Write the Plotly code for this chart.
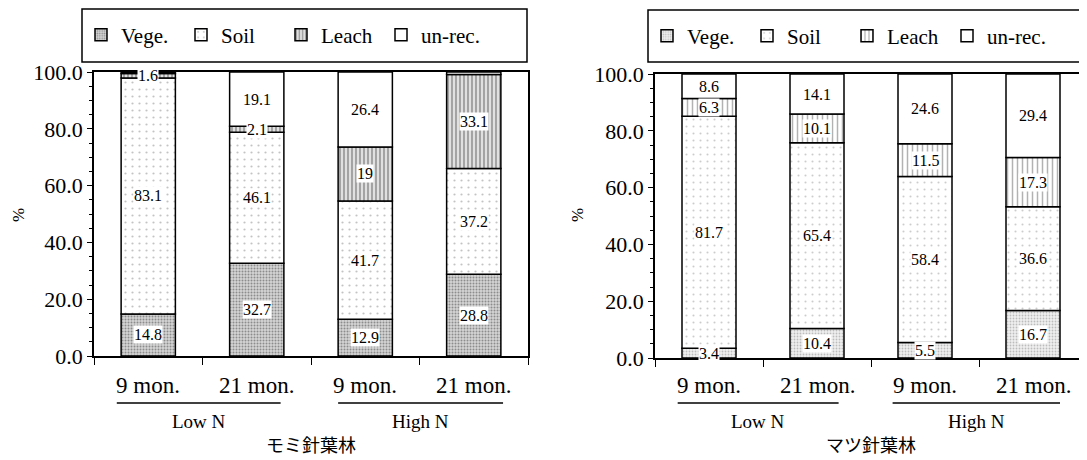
import plotly.graph_objects as go

# ---------------- data ----------------
categories = ["9 mon.", "21 mon.", "9 mon.", "21 mon."]
groups = ["Low N", "High N"]
series = ["Vege.", "Soil", "Leach", "un-rec."]

# モミ針葉林 (left)
momi_vege = [14.8, 32.7, 12.9, 28.8]
momi_soil = [83.1, 46.1, 41.7, 37.2]
momi_leach = [1.6, 2.1, 19.0, 33.1]
momi_unrec = [0.5, 19.1, 26.4, 0.9]

# マツ針葉林 (right)
matsu_vege = [3.4, 10.4, 5.5, 16.7]
matsu_soil = [81.7, 65.4, 58.4, 36.6]
matsu_leach = [6.3, 10.1, 11.5, 17.3]
matsu_unrec = [8.6, 14.1, 24.6, 29.4]

titles = ["モミ針葉林", "マツ針葉林"]
y_ticks = [0, 20, 40, 60, 80, 100]

SERIF = "Liberation Serif"
CJK = "Noto Sans CJK JP"

# page has an 8px body margin -> figure occupies 8..1087 x 8..460
OFF = 8
W, H = 1087 - OFF, 460 - OFF


def px_x(p):
    return (p - OFF) / W


def px_y(p):
    return 1 - (p - OFF) / H


patterns = {
    "Vege.": [dict(shape=".", fgcolor="#444", bgcolor="#d4d4d4", size=3, solidity=0.35),
              dict(shape=".", fgcolor="#888", bgcolor="#f0f0f0", size=3, solidity=0.3)],
    "Soil": [dict(shape=".", fgcolor="#888", bgcolor="white", size=7, solidity=0.08),
             dict(shape=".", fgcolor="#999", bgcolor="white", size=7, solidity=0.07)],
    "Leach": [dict(shape="|", fgcolor="#333", bgcolor="#e0e0e0", size=4, solidity=0.35),
              dict(shape="|", fgcolor="#666", bgcolor="white", size=5, solidity=0.3)],
    "un-rec.": [dict(shape="", bgcolor="white"), dict(shape="", bgcolor="white")],
}

panels = [
    dict(data=[momi_vege, momi_soil, momi_leach, momi_unrec], xa="x", ya="y",
         legend="legend", dom_x=[px_x(94), px_x(528)], dom_y=[px_y(356), px_y(72)],
         under=[(-0.29, 1.22), (1.75, 3.27)], ytitle_x=18),
    dict(data=[matsu_vege, matsu_soil, matsu_leach, matsu_unrec], xa="x2", ya="y2",
         legend="legend2", dom_x=[px_x(655), 1.0], dom_y=[px_y(358), px_y(74)],
         under=[(-0.29, 1.2), (1.7, 3.25)], ytitle_x=577),
]

fig = go.Figure()
annotations = []
shapes = []
xpos = list(range(len(categories)))

for pi, p in enumerate(panels):
    base = [0.0] * len(categories)
    for si, name in enumerate(series):
        vals = p["data"][si]
        fig.add_trace(go.Bar(
            x=xpos, y=vals, base=base[:], name=name,
            xaxis=p["xa"], yaxis=p["ya"], legend=p["legend"],
            width=0.5,
            marker=dict(color="white", line=dict(color="black", width=1.5),
                        pattern=patterns[name][pi]),
            hoverinfo="skip",
        ))
        for ci, v in enumerate(vals):
            if v >= 1:
                annotations.append(dict(
                    x=xpos[ci], y=base[ci] + v / 2, xref=p["xa"], yref=p["ya"],
                    xanchor="center", yanchor="middle",
                    text=f"{v:g}", showarrow=False, bgcolor="white", borderpad=0,
                    font=dict(family=SERIF, size=16, color="black")))
            base[ci] += v

    # category labels
    for ci, c in enumerate(categories):
        annotations.append(dict(x=xpos[ci], y=px_y(385), xref=p["xa"], yref="paper",
                                xanchor="center", yanchor="middle",
                                text=c, showarrow=False,
                                font=dict(family=SERIF, size=23, color="black")))
    # group underlines + labels
    for gi, g in enumerate(groups):
        x0, x1 = p["under"][gi]
        shapes.append(dict(type="line", xref=p["xa"], yref="paper", x0=x0, x1=x1,
                           y0=px_y(403), y1=px_y(403), line=dict(color="black", width=1.5)))
        annotations.append(dict(x=(x0 + x1) / 2, y=px_y(421),
                                xref=p["xa"], yref="paper", text=g, showarrow=False,
                                xanchor="center", yanchor="middle",
                                font=dict(family=SERIF, size=19, color="black")))
    # panel title
    annotations.append(dict(x=1.5, y=px_y(444), xref=p["xa"], yref="paper",
                            xanchor="center", yanchor="middle",
                            text=titles[pi], showarrow=False,
                            font=dict(family=CJK, size=18, color="black")))
    # y title
    annotations.append(dict(x=px_x(p["ytitle_x"]), y=px_y(215), xref="paper", yref="paper",
                            text="%", textangle=-90, showarrow=False,
                            xanchor="center", yanchor="middle",
                            font=dict(family=SERIF, size=17, color="black")))

# legend frames
shapes.append(dict(type="rect", xref="paper", yref="paper", x0=px_x(82), x1=px_x(527),
                   y0=px_y(62), y1=px_y(9), line=dict(color="black", width=1.5)))
shapes.append(dict(type="rect", xref="paper", yref="paper", x0=px_x(648), x1=px_x(1095),
                   y0=px_y(62), y1=px_y(10), line=dict(color="black", width=1.5)))

axis_common = dict(showline=True, linecolor="black", linewidth=1.5, mirror=True,
                   showgrid=False, zeroline=False, automargin=False)

x_bounds = [x - 0.5 for x in xpos] + [xpos[-1] + 0.5]
yticktext = [f"{t:.1f}" for t in y_ticks]

layout = dict(
    width=W, height=H, margin=dict(l=0, r=0, t=0, b=0),
    paper_bgcolor="white", plot_bgcolor="white",
    barmode="overlay", showlegend=True,
    annotations=annotations, shapes=shapes,
    font=dict(family=SERIF, color="black"),
)
for pi, p in enumerate(panels):
    sx = "" if pi == 0 else "2"
    layout["xaxis" + sx] = dict(axis_common, domain=p["dom_x"], range=[-0.5, 3.5],
                                tickvals=x_bounds, showticklabels=False, ticks="outside",
                                ticklen=7, tickcolor="black",
                                anchor="y" + sx)
    layout["yaxis" + sx] = dict(axis_common, domain=p["dom_y"], range=[0, 100],
                                tickvals=y_ticks, ticktext=yticktext, ticks="outside",
                                ticklen=5, tickcolor="black",
                                tickfont=dict(family=SERIF, size=22, color="black"),
                                minor=dict(dtick=5, ticks="outside", ticklen=3, tickcolor="black"),
                                anchor="x" + sx)

legend_common = dict(orientation="h", bgcolor="rgba(0,0,0,0)", borderwidth=0,
                     font=dict(family=SERIF, size=21, color="black"),
                     entrywidth=55, entrywidthmode="pixels", traceorder="normal",
                     xanchor="left", yanchor="middle", itemclick=False, itemdoubleclick=False)
layout["legend"] = dict(legend_common, x=px_x(81), y=px_y(35))
layout["legend2"] = dict(legend_common, x=px_x(647), y=px_y(36))

fig.update_layout(**layout)
fig.write_html("out.html")
